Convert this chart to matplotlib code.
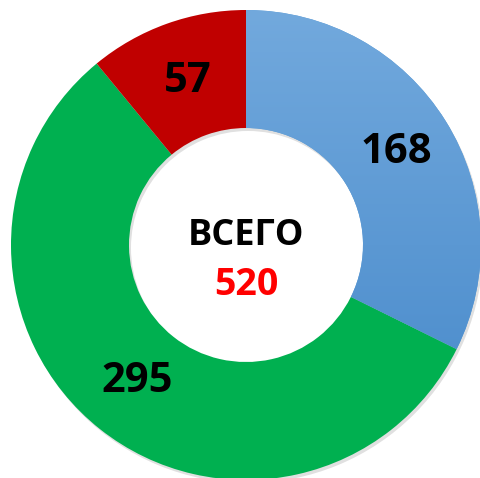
import numpy as np
import matplotlib
matplotlib.use('Agg')
import matplotlib.pyplot as plt
from matplotlib.colors import LinearSegmentedColormap

# data
labels = ['168', '295', '57']
values = [168, 295, 57]
colors = ['#5B9BD5', '#00B050', '#C00000']
total_label = 'ВСЕГО'
total = sum(values)

plt.rcParams['font.family'] = ['Open Sans', 'DejaVu Sans']

fig = plt.figure(figsize=(4.81, 4.78), dpi=100)
ax = fig.add_axes([0, 0, 1, 1])

cx, cy = 246, 233   # pixel coords, y up
R, W = 235, 118

# faint shadow under the ring
ax.pie([1], radius=R, center=(cx + 2, cy - 3), colors=['#000000'],
       wedgeprops=dict(width=W, alpha=0.12, linewidth=0))

wedges, _ = ax.pie(values, radius=R, center=(cx, cy), startangle=90,
                   counterclock=False, colors=colors,
                   wedgeprops=dict(width=W, linewidth=0))

# blue slice has a vertical gradient
cmap = LinearSegmentedColormap.from_list('bl', ['#4487C9', '#72A9DD'])
grad = np.linspace(0, 1, 256).reshape(-1, 1)
im = ax.imshow(grad, cmap=cmap, origin='lower', aspect='auto',
               extent=(cx, cx + R, cy - R, cy + R), zorder=2)
im.set_clip_path(wedges[0])

ax.set_xlim(0, 481)
ax.set_ylim(0, 478)
ax.set_aspect('auto')
ax.axis('off')

# slice labels
pos = [(396, 478 - 152), (137, 478 - 382), (188, 478 - 81)]
for (x, y), t in zip(pos, labels):
    ax.text(x, y, t, ha='center', va='center', fontsize=30,
            fontweight='bold', color='black', zorder=5)

ax.text(246, 478 - 236, total_label, ha='center', va='center', fontsize=26,
        fontweight='bold', color='black', zorder=5)
ax.text(246, 478 - 285, str(total), ha='center', va='center', fontsize=27,
        fontweight='bold', color='#FF0000', zorder=5)

fig.savefig('out.png', dpi=100)
